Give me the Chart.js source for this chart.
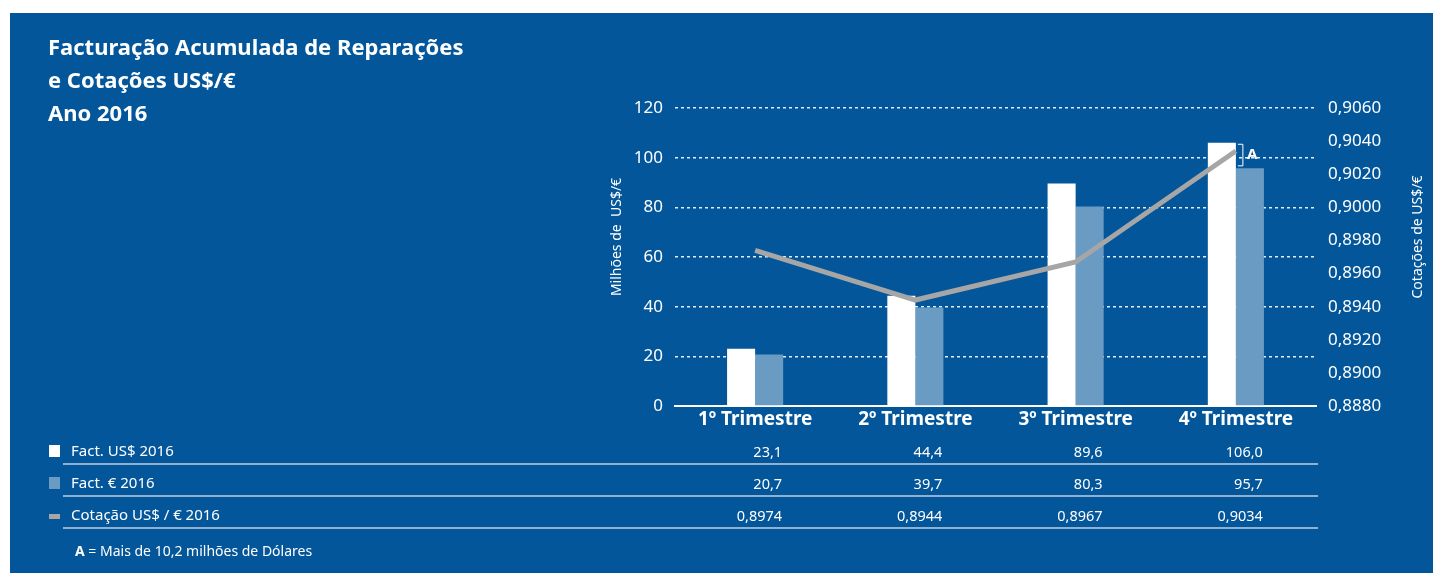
<!DOCTYPE html>
<html>
<head>
<meta charset="utf-8">
<script src="https://cdn.jsdelivr.net/npm/chart.js@4"></script>
<style>
  html, body { margin:0; padding:0; background:#fff; }
  #box { position:absolute; left:10px; top:13px; width:1423px; height:560px; background:#03569a; }
  #wrap { position:absolute; left:0; top:0; width:1433px; height:573px; }
  #titulo { position:absolute; left:48px; top:30px; color:#fff; font:bold 22px "Noto Sans", sans-serif; line-height:33px; }
  .linha { position:absolute; left:63px; width:1255px; height:0; border-top:2px solid #8fb0d0; }
  .rot { position:absolute; left:71px; color:#fff; font:15px "Noto Sans", sans-serif; }
  .mk { position:absolute; left:49px; }
  .val { position:absolute; color:#fff; font:14.5px "Noto Sans", sans-serif; text-align:right; width:80px; }
  #nota { position:absolute; left:75px; top:541px; color:#fff; font:14px "Noto Sans", sans-serif; }
</style>
</head>
<body>
<div id="box"></div>
<div id="wrap"><canvas id="grafico" width="1433" height="573"></canvas></div>
<div id="titulo">Facturação Acumulada de Reparações<br>e Cotações US$/€<br>Ano 2016</div>
<div id="tabela"></div>
<div id="nota"><b>A</b> = Mais de 10,2 milhões de Dólares</div>
<script>
// dados
var trimestres = ['1º Trimestre', '2º Trimestre', '3º Trimestre', '4º Trimestre'];
var factUSD = [23.1, 44.4, 89.6, 106.0];
var factEUR = [20.7, 39.7, 80.3, 95.7];
var cotacao = [0.8974, 0.8944, 0.8967, 0.9034];
var legendas = ['Fact. US$  2016', 'Fact. €  2016', 'Cotação US$ / € 2016'];
var titulosEixos = ['Milhões de  US$/€', 'Cotações de US$/€'];

var corUSD = '#ffffff';
var corEUR = '#6a9bc3';
var corCot = '#a6a6a6';

function virgula(v, casas){ return v.toFixed(casas).replace('.', ','); }

// chaveta "A" no 4º trimestre + títulos dos eixos (ambos de baixo para cima)
var extras = {
  id: 'extras',
  afterDatasetsDraw: function(chart){
    var ctx = chart.ctx;
    var barra = chart.getDatasetMeta(0).data[3];
    var y = chart.scales.y;
    var x0 = barra.x + barra.width/2 + 2;
    var yTop = y.getPixelForValue(factUSD[3]) + 1;
    var yBot = y.getPixelForValue(factEUR[3]) - 3;
    ctx.save();
    ctx.strokeStyle = '#fff';
    ctx.lineWidth = 1;
    ctx.beginPath();
    ctx.moveTo(x0, yTop + 0.5); ctx.lineTo(x0 + 5, yTop + 0.5);
    ctx.lineTo(x0 + 5, yBot + 0.5); ctx.lineTo(x0, yBot + 0.5);
    ctx.stroke();
    ctx.fillStyle = '#fff';
    ctx.font = 'bold 15px "Noto Sans", sans-serif';
    ctx.textBaseline = 'middle';
    ctx.fillText('A', x0 + 9, (yTop + yBot)/2);
    ctx.restore();
  },
  afterDraw: function(chart){
    var ctx = chart.ctx;
    var yc = 237;
    var pos = [chart.scales.y.left + 20, chart.scales.y1.right - 10];
    ctx.save();
    ctx.fillStyle = '#fff';
    ctx.font = '14px "Noto Sans", sans-serif';
    ctx.textAlign = 'center';
    ctx.textBaseline = 'middle';
    for (var k = 0; k < 2; k++) {
      ctx.save();
      ctx.translate(pos[k], yc);
      ctx.rotate(-Math.PI/2);
      ctx.fillText(titulosEixos[k], 0, 0);
      ctx.restore();
    }
    ctx.restore();
  }
};

var grafico = new Chart(document.getElementById('grafico'), {
  data: {
    labels: trimestres,
    datasets: [
      { type: 'bar', label: legendas[0], data: factUSD, backgroundColor: corUSD, yAxisID: 'y', order: 1,
        categoryPercentage: 0.35, barPercentage: 1.0 },
      { type: 'bar', label: legendas[1], data: factEUR, backgroundColor: corEUR, yAxisID: 'y', order: 1,
        categoryPercentage: 0.35, barPercentage: 1.0 },
      { type: 'line', label: legendas[2], data: cotacao, borderColor: corCot, borderWidth: 5,
        pointRadius: 0, yAxisID: 'y1', order: 0, tension: 0, borderCapStyle: 'butt' }
    ]
  },
  plugins: [extras],
  options: {
    responsive: false,
    animation: false,
    layout: { padding: { left: 597, right: 5, top: 108, bottom: 137 } },
    plugins: { legend: { display: false }, tooltip: { enabled: false } },
    scales: {
      x: {
        grid: { display: false, drawTicks: false },
        border: { display: true, color: '#fff', width: 2 },
        ticks: { color: '#fff', font: { family: 'Noto Sans', size: 19, weight: 'bold' }, padding: 2 },
        afterFit: function(s){ s.height = 30; }
      },
      y: {
        position: 'left', min: 0, max: 120,
        ticks: { stepSize: 20, color: '#fff', font: { family: 'Noto Sans', size: 17 }, padding: 12 },
        grid: { color: 'rgba(255,255,255,0.9)', lineWidth: 1.5, drawTicks: false },
        border: { display: false, dash: [3, 3] },
        afterFit: function(s){ s.width = 78; }
      },
      y1: {
        position: 'right', min: 0.888, max: 0.906,
        ticks: { stepSize: 0.002, color: '#fff', font: { family: 'Noto Sans', size: 17 }, padding: 12,
          callback: function(v){ return virgula(v, 4); } },
        grid: { display: false, drawTicks: false },
        border: { display: false },
        afterFit: function(s){ s.width = 112; }
      }
    }
  }
});

// tabela por baixo do gráfico
var tabela = document.getElementById('tabela');
var series = [factUSD, factEUR, cotacao];
var casas = [1, 1, 4];
var topos = [441, 473, 505];
var marcas = [
  { cor: corUSD, h: 12, dy: 4 },
  { cor: corEUR, h: 12, dy: 4 },
  { cor: corCot, h: 5, dy: 9 }
];
var html = '';
var xs = grafico.scales.x;
for (var r = 0; r < 3; r++) {
  var m = marcas[r];
  html += '<div class="mk" style="top:' + (topos[r] + m.dy) + 'px;width:11px;height:' + m.h + 'px;background:' + m.cor + '"></div>';
  html += '<div class="rot" style="top:' + (topos[r] - 1) + 'px">' + legendas[r] + '</div>';
  for (var i = 0; i < trimestres.length; i++) {
    var xr = xs.getPixelForValue(i) + 27;
    html += '<div class="val" style="top:' + topos[r] + 'px;left:' + (xr - 80) + 'px">' + virgula(series[r][i], casas[r]) + '</div>';
  }
  html += '<div class="linha" style="top:' + (topos[r] + 22) + 'px"></div>';
}
tabela.innerHTML = html;

// linhas de grelha pontilhadas
grafico.options.scales.y.grid.borderDash = [3, 3];
grafico.update();
</script>
</body>
</html>
